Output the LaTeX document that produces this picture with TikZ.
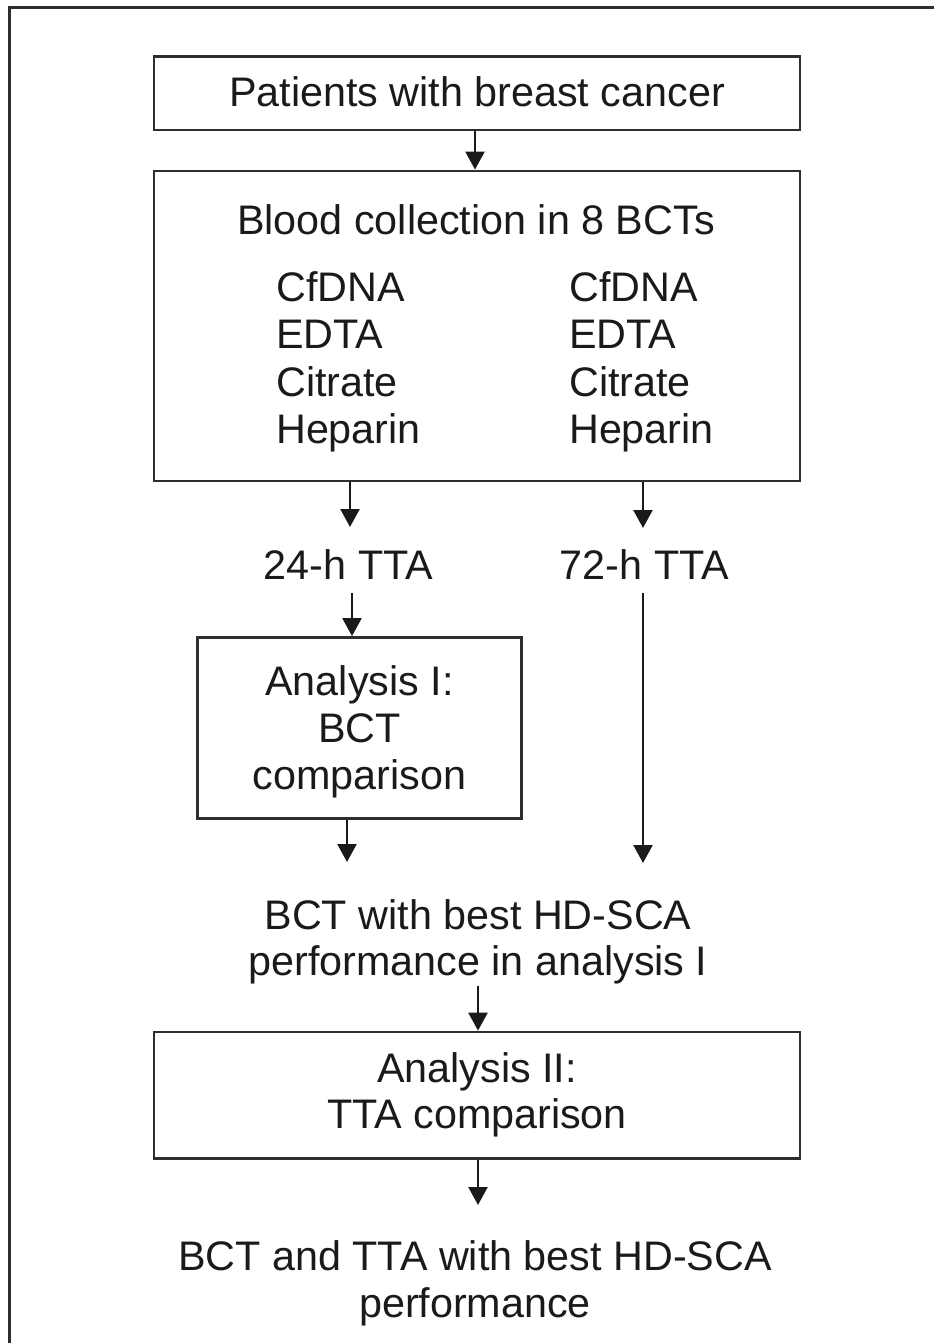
\documentclass[tikz,border=0pt]{standalone}
\usepackage{fontspec}
\setmainfont{Liberation Sans}
\usetikzlibrary{arrows.meta}
\definecolor{ink}{HTML}{1A1A1A}
\definecolor{edge}{HTML}{2E2E2E}
\begin{document}
\begin{tikzpicture}[x=1pt,y=-1pt,
  box/.style={draw=edge, line width=2.8pt, inner sep=0pt, fill=none},
  lbl/.style={text=ink, inner sep=0pt, font=\fontsize{41.3}{47}\selectfont},
  arr/.style={draw=ink, line width=2.4pt, -{Triangle[width=19pt,length=18pt]}},
  outer/.style={draw=edge, line width=3pt}
]
\useasboundingbox (0,0) rectangle (934,1343);
\coordinate (fa) at (9,1346);
\coordinate (fb) at (9,8);
\coordinate (fc) at (934,8);
\draw[outer] (fa) -- (fb) -- (fc);

% boxes
\node[box, minimum width=646, minimum height=73.5] (b1) at (477,93.3) {};
\node[box, minimum width=646, minimum height=310] (b2) at (477,326) {};
\node[box, minimum width=324, minimum height=181] (b3) at (359.5,728) {};
\node[box, minimum width=646, minimum height=126.5] (b4) at (477,1095.3) {};

% texts
\node[lbl, anchor=base] (t1) at (477,107) {Patients with breast cancer};
\node[lbl, anchor=base] (t2) at (476,234) {Blood collection in 8 BCTs};
\foreach \t [count=\i] in {CfDNA,EDTA,Citrate,Heparin}{
  \node[lbl, anchor=base west] (L\i) at (276,253.5+47.5*\i) {\t};
  \node[lbl, anchor=base west] (R\i) at (569,253.5+47.5*\i) {\t};
}
\node[lbl, anchor=base] (t24) at (348.5,579) {24-h TTA};
\node[lbl, anchor=base] (t72) at (644.5,579) {72-h TTA};
\node[lbl, anchor=base] (a1a) at (359.5,695) {Analysis I:};
\node[lbl, anchor=base] (a1b) at (359.5,742) {BCT};
\node[lbl, anchor=base] (a1c) at (359.5,789) {comparison};
\node[lbl, anchor=base] (r1a) at (478,929) {BCT with best HD-SCA};
\node[lbl, anchor=base] (r1b) at (478,975) {performance in analysis I};
\node[lbl, anchor=base] (a2a) at (477,1082) {Analysis II:};
\node[lbl, anchor=base] (a2b) at (477,1128) {TTA comparison};
\node[lbl, anchor=base] (f1) at (475,1270) {BCT and TTA with best HD-SCA};
\node[lbl, anchor=base] (f2) at (475,1317) {performance};

% connector ends
\coordinate (c24in) at (350,527);
\coordinate (c72in) at (643,528);
\coordinate (c24out) at (352,593);
\coordinate (c72out) at (643,593);
\coordinate (cL) at (347,862);
\coordinate (cR) at (643,863);
\coordinate (cm) at (478,986);
\coordinate (cf) at (478,1205);

% arrows
\draw[arr] ([xshift=-2pt]b1.south) -- ([xshift=-2pt]b2.north);
\draw[arr] (b2.south -| c24in) -- (c24in);
\draw[arr] (b2.south -| c72in) -- (c72in);
\draw[arr] (c24out) -- (c24out |- b3.north);
\draw[arr] (b3.south -| cL) -- (cL);
\draw[arr] (c72out) -- (cR);
\draw[arr] (cm) -- (cm |- b4.north);
\draw[arr] (b4.south -| cf) -- (cf);
\end{tikzpicture}
\end{document}
